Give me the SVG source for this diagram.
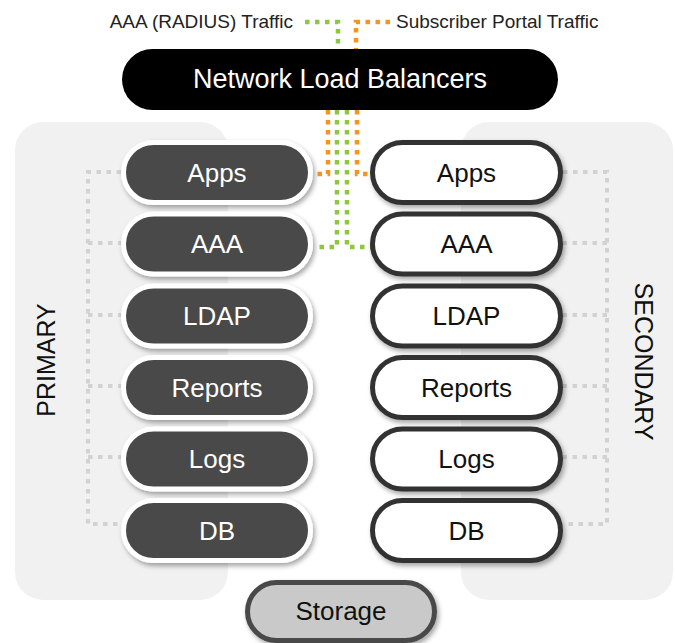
<svg xmlns="http://www.w3.org/2000/svg" width="675" height="643" viewBox="0 0 675 643">
<defs>
<filter id="sh" x="-20%" y="-30%" width="140%" height="170%">
<feDropShadow dx="2" dy="3" stdDeviation="2.5" flood-color="#000" flood-opacity="0.35"/>
</filter>
<style>
text{font-family:"Liberation Sans",Arial,Helvetica,sans-serif;}
.panel{fill:#f1f1f1;}
.pri{fill:#4a4a4a;stroke:#ffffff;stroke-width:5;filter:url(#sh);}
.sec{fill:#ffffff;stroke:#333333;stroke-width:5;filter:url(#sh);}
.sto{fill:#c9c9c9;stroke:#4a4a4a;stroke-width:5;filter:url(#sh);}
.lw{fill:#ffffff;font-size:26px;text-anchor:middle;}
.lb{fill:#111111;font-size:26px;text-anchor:middle;}
.leg{fill:#222222;font-size:19px;}
.side{fill:#111111;font-size:25px;text-anchor:middle;}
.dot{fill:none;stroke-width:4.5;stroke-dasharray:4.5 5.5;}
.g{stroke:#8dc63f;}
.o{stroke:#f7941d;}
.gr{fill:none;stroke:#d2d2d2;stroke-width:4;stroke-dasharray:4.5 5.5;}
</style>
</defs>
<rect class="panel" x="15" y="122" width="213" height="478" rx="28"/>
<rect class="panel" x="461" y="122" width="212" height="478" rx="28"/>
<text class="side" transform="translate(55,360) rotate(-90)">PRIMARY</text>
<text class="side" transform="translate(635,361.5) rotate(90)">SECONDARY</text>
<text class="leg" x="293" y="28" text-anchor="end">AAA (RADIUS) Traffic</text>
<text class="leg" x="396" y="28">Subscriber Portal Traffic</text>
<g id="connectors">
<path class="dot g" d="M305 22 H338 V52"/>
<path class="dot o" d="M390 22 H356 V52"/>
<path class="dot o" d="M328 110 V174 H314"/>
<path class="dot o" d="M357 110 V174 H372"/>
<path class="dot g" d="M337 110 V247 H314"/>
<path class="dot g" d="M347 110 V247 H372"/>
<path class="gr" d="M121 172 H88 V524 H121 M88 243 H121 M88 315 H121 M88 386 H121 M88 457 H121"/>
<path class="gr" d="M563 172 H607 V524 H563 M607 243 H563 M607 315 H563 M607 386 H563 M607 457 H563"/>
</g>
<g id="nlb">
<rect x="122" y="49" width="436" height="61" rx="30.5" fill="#000000"/>
<text x="340" y="88" fill="#ffffff" font-size="27" text-anchor="middle">Network Load Balancers</text>
</g>
<g id="p-apps"><rect class="pri" x="123.5" y="142.5" width="187" height="60" rx="30"/><text class="lw" x="217" y="181.5">Apps</text></g>
<g id="p-aaa"><rect class="pri" x="123.5" y="214" width="187" height="60" rx="30"/><text class="lw" x="217" y="253">AAA</text></g>
<g id="p-ldap"><rect class="pri" x="123.5" y="286" width="187" height="60" rx="30"/><text class="lw" x="217" y="325">LDAP</text></g>
<g id="p-reports"><rect class="pri" x="123.5" y="357.5" width="187" height="60" rx="30"/><text class="lw" x="217" y="396.5">Reports</text></g>
<g id="p-logs"><rect class="pri" x="123.5" y="429" width="187" height="60" rx="30"/><text class="lw" x="217" y="468">Logs</text></g>
<g id="p-db"><rect class="pri" x="123.5" y="500.5" width="187" height="60" rx="30"/><text class="lw" x="217" y="539.5">DB</text></g>
<g id="s-apps"><rect class="sec" x="372.5" y="142.5" width="188" height="60" rx="30"/><text class="lb" x="466.5" y="181.5">Apps</text></g>
<g id="s-aaa"><rect class="sec" x="372.5" y="214" width="188" height="60" rx="30"/><text class="lb" x="466.5" y="253">AAA</text></g>
<g id="s-ldap"><rect class="sec" x="372.5" y="286" width="188" height="60" rx="30"/><text class="lb" x="466.5" y="325">LDAP</text></g>
<g id="s-reports"><rect class="sec" x="372.5" y="357.5" width="188" height="60" rx="30"/><text class="lb" x="466.5" y="396.5">Reports</text></g>
<g id="s-logs"><rect class="sec" x="372.5" y="429" width="188" height="60" rx="30"/><text class="lb" x="466.5" y="468">Logs</text></g>
<g id="s-db"><rect class="sec" x="372.5" y="500.5" width="188" height="60" rx="30"/><text class="lb" x="466.5" y="539.5">DB</text></g>
<g id="storage"><rect class="sto" x="247.5" y="582.5" width="187" height="58" rx="29"/><text class="lb" x="341" y="620">Storage</text></g>
</svg>
